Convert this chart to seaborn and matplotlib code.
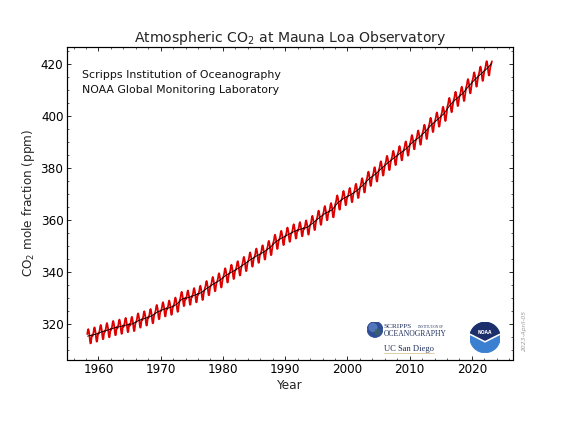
import matplotlib
matplotlib.use("Agg")
import matplotlib.pyplot as plt
import numpy as np
import pandas as pd
import seaborn as sns
from matplotlib.patches import Circle, Polygon
from matplotlib.ticker import MultipleLocator

# ---------------- data ----------------
years = list(range(1958, 2024))
annual_mean = [
    315.30, 315.98, 316.91, 317.64, 318.45, 318.99, 319.62, 320.04, 321.37, 322.18,
    323.05, 324.62, 325.68, 326.32, 327.46, 329.68, 330.19, 331.12, 332.03, 333.84,
    335.41, 336.84, 338.76, 340.12, 341.48, 343.15, 344.87, 346.35, 347.61, 349.31,
    351.69, 353.20, 354.45, 355.70, 356.54, 357.21, 358.96, 360.97, 362.74, 363.88,
    366.84, 368.54, 369.71, 371.32, 373.45, 375.98, 377.70, 379.98, 382.09, 384.02,
    385.83, 387.64, 390.10, 391.85, 394.06, 396.74, 398.81, 401.01, 404.41, 406.76,
    408.72, 411.66, 414.24, 416.45, 418.56, 420.40,
]
# mean seasonal departure from the annual mean, Jan..Dec (ppm)
seasonal_anomaly = [-0.7, -0.1, 0.8, 2.2, 2.7, 1.9, 0.7, -1.5, -2.8, -2.7, -0.9, 0.4]
first_month = 3   # record starts March 1958
last_month = 3    # record ends March 2023

title = "Atmospheric CO$_2$ at Mauna Loa Observatory"
ylabel = "CO$_2$ mole fraction (ppm)"
xlabel = "Year"
credit_lines = ["Scripps Institution of Oceanography", "NOAA Global Monitoring Laboratory"]
date_stamp = "2023-April-05"
xticks = [1960, 1970, 1980, 1990, 2000, 2010, 2020]
yticks = [320, 340, 360, 380, 400, 420]

# monthly records
rows = []
for y, a in zip(years, annual_mean):
    m0 = first_month if y == years[0] else 1
    m1 = last_month if y == years[-1] else 12
    for m in range(m0, m1 + 1):
        rows.append({"date": y + (m - 0.5) / 12.0, "co2": a + seasonal_anomaly[m - 1]})
monthly = pd.DataFrame(rows)
trend = pd.DataFrame({"date": np.array(years) + 0.5, "co2": annual_mean})
trend.loc[0, "date"] = years[0] + 0.25
trend.loc[len(trend) - 1, "date"] = years[-1] + 0.15

# ---------------- style ----------------
sns.set_style("ticks")
plt.rcParams["font.family"] = ["DejaVu Sans"]
plt.rcParams.update({
    "xtick.direction": "in", "ytick.direction": "in",
    "xtick.top": True, "ytick.right": True,
    "xtick.major.size": 4, "ytick.major.size": 4,
    "xtick.minor.size": 2, "ytick.minor.size": 2,
    "xtick.color": "black", "ytick.color": "black",
    "axes.edgecolor": "black", "axes.linewidth": 1.2,
})

W, H = 576, 432
fig = plt.figure(figsize=(8, 6), dpi=72)
ax = fig.add_axes([67 / W, 1 - 359.5 / H, (512.7 - 67) / W, (359.5 - 47.3) / H])

sns.lineplot(data=monthly, x="date", y="co2", ax=ax, color="#dd0000", lw=1.8,
             estimator=None, sort=False)
sns.lineplot(data=trend, x="date", y="co2", ax=ax, color="black", lw=0.9,
             estimator=None, sort=False)

ax.set_xlim(1954.95, 2026.55)
ax.set_ylim(306.3, 426.6)
ax.set_xticks(xticks)
ax.set_yticks(yticks)
ax.xaxis.set_minor_locator(MultipleLocator(2))
ax.yaxis.set_minor_locator(MultipleLocator(5))
ax.tick_params(which="both", top=True, right=True, direction="in", labelsize=12)
ax.set_xlabel(xlabel, fontsize=12, labelpad=3)
ax.set_ylabel(ylabel, fontsize=12)
ax.set_title(title, fontsize=14, pad=5)

for i, line in enumerate(credit_lines):
    fig.text(81.5 / W, 1 - (77.5 + 15.4 * i) / H, line, fontsize=11, va="baseline",
             ha="left", color="#111111")

fig.text(524 / W, 1 - 330 / H, date_stamp, rotation=90, color="#9a9a9a",
         fontsize=6, style="italic", ha="center", va="center")

# ---- Scripps / UC San Diego mark ----
gax = fig.add_axes([(375 - 8) / W, 1 - (329.5 + 8) / H, 16 / W, 16 / H])
gax.set_xlim(-1, 1); gax.set_ylim(-1, 1); gax.set_aspect("equal"); gax.axis("off")
gax.add_patch(Circle((0, 0), 0.98, color="#2e4d96"))
gax.add_patch(Circle((-0.25, 0.25), 0.5, color="#5b7fc4", alpha=0.8))
gax.add_patch(Circle((0.3, -0.3), 0.35, color="#3d6b5a", alpha=0.6))
serif = ["Liberation Serif", "DejaVu Serif"]
fig.text(384 / W, 1 - 327.5 / H, "SCRIPPS", family=serif, fontsize=7.3, color="#1f2f5c",
         va="baseline")
fig.text(418 / W, 1 - 327.5 / H, "INSTITUTION OF", family=serif, fontsize=3.2,
         color="#1f2f5c", va="baseline")
fig.text(384 / W, 1 - 336 / H, "OCEANOGRAPHY", family=serif, fontsize=7.6, color="#1f2f5c",
         va="baseline")
fig.text(384 / W, 1 - 351 / H, "UC San Diego", family=serif, fontsize=8.5, color="#1f2f5c",
         va="baseline")
fig.add_artist(plt.Line2D([384 / W, 434 / W], [1 - 353 / H, 1 - 353 / H], color="#c0a050",
                          lw=0.5))

# ---- NOAA mark ----
nax = fig.add_axes([(485 - 15.5) / W, 1 - (337.5 + 15.5) / H, 31 / W, 31 / H])
nax.set_xlim(-1, 1); nax.set_ylim(-1, 1); nax.set_aspect("equal"); nax.axis("off")
nax.add_patch(Circle((0, 0), 0.98, color="#3b7fd0"))
th = np.linspace(np.radians(12), np.radians(168), 40)
arc = np.column_stack([0.98 * np.cos(th), 0.98 * np.sin(th)])
gull = np.array([[-0.95, 0.2], [-0.45, -0.05], [0.0, -0.28], [0.45, -0.05], [0.95, 0.2]])
nax.add_patch(Polygon(np.vstack([arc, gull]), closed=True, color="#1c2f6b"))
nax.plot(gull[:, 0], gull[:, 1], color="white", lw=1.6)
nax.text(0, 0.33, "NOAA", color="white", fontsize=4.5, fontweight="bold",
         ha="center", va="center")

fig.savefig("out.png", dpi=72)
